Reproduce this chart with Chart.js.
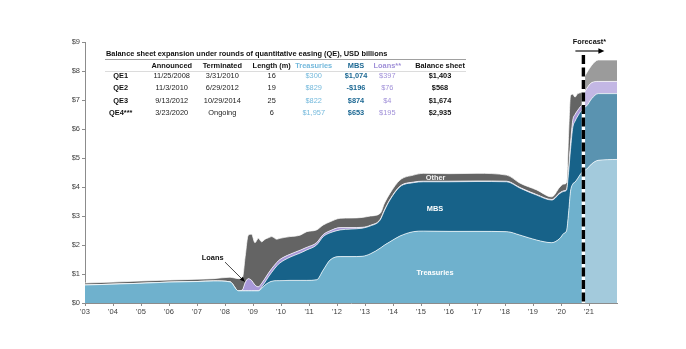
<!DOCTYPE html>
<html>
<head>
<meta charset="utf-8">
<script src="https://cdn.jsdelivr.net/npm/chart.js@4.4.0/dist/chart.umd.min.js"></script>
<style>
  html, body { margin: 0; padding: 0; background: #fff; }
  #wrap { width: 686px; height: 349px; }
</style>
</head>
<body>
<div id="wrap"><canvas id="c" width="686" height="349"></canvas></div>
<script>
// Federal Reserve balance sheet by asset type, USD trillions, by decimal year
const histYears = [2003.0, 2004.0, 2005.0, 2006.0, 2007.0, 2007.6, 2008.18, 2008.48, 2008.62, 2008.72, 2008.83, 2008.95,
  2009.07, 2009.19, 2009.31, 2009.43, 2009.55, 2009.67, 2009.85, 2009.96, 2010.32, 2010.68, 2010.92,
  2011.27, 2011.51, 2011.75, 2012.11, 2012.5, 2012.9, 2013.2, 2013.54, 2013.7, 2013.89, 2014.25, 2014.73,
  2015.08, 2016.0, 2017.0, 2018.06, 2018.54, 2019.13, 2019.67, 2019.96, 2020.1, 2020.2, 2020.27, 2020.34,
  2020.42, 2020.5, 2020.6, 2020.7, 2020.8];
const histTreasuries = [0.62, 0.65, 0.68, 0.72, 0.74, 0.76, 0.73, 0.42, 0.42, 0.42, 0.42, 0.42,
  0.42, 0.42, 0.5, 0.62, 0.7, 0.75, 0.77, 0.77, 0.78, 0.78, 0.78,
  0.8, 1.14, 1.48, 1.6, 1.6, 1.61, 1.7, 1.89, 2.0, 2.11, 2.31, 2.46,
  2.48, 2.47, 2.47, 2.46, 2.34, 2.17, 2.08, 2.23, 2.4, 2.5, 3.1, 3.85,
  4.1, 4.17, 4.3, 4.45, 4.55];
const histMBS = [0, 0, 0, 0, 0, 0, 0, 0, 0, 0, 0, 0,
  0, 0, 0.05, 0.1, 0.2, 0.31, 0.51, 0.61, 0.8, 0.94, 1.05,
  1.2, 1.15, 0.94, 0.92, 0.95, 0.97, 0.96, 0.97, 1.2, 1.44, 1.7, 1.69,
  1.7, 1.71, 1.72, 1.72, 1.62, 1.55, 1.47, 1.55, 1.45, 1.4, 1.4, 1.45,
  1.95, 2.1, 2.15, 2.15, 2.17];
const histLoans = [0, 0, 0, 0, 0, 0, 0, 0, 0.03, 0.28, 0.42, 0.36,
  0.2, 0.14, 0.13, 0.13, 0.13, 0.13, 0.12, 0.12, 0.1, 0.1, 0.09,
  0.08, 0.07, 0.07, 0.08, 0.05, 0.03, 0.02, 0.02, 0.02, 0.02, 0.02, 0.02,
  0.02, 0.02, 0.02, 0.02, 0.02, 0.02, 0.02, 0.02, 0.02, 0.02, 0.05, 0.2,
  0.25, 0.23, 0.2, 0.18, 0.16];
const histOther = [0.07, 0.07, 0.08, 0.07, 0.08, 0.08, 0.16, 0.42, 0.41, 0.9, 1.5, 1.59,
  1.46, 1.67, 1.43, 1.35, 1.22, 1.1, 0.8, 0.73, 0.61, 0.52, 0.54,
  0.44, 0.33, 0.31, 0.32, 0.33, 0.34, 0.32, 0.21, 0.23, 0.21, 0.21, 0.24,
  0.27, 0.26, 0.26, 0.21, 0.15, 0.16, 0.09, 0.2, 0.23, 0.23, 1.25, 1.65,
  0.9, 0.6, 0.57, 0.47, 0.42];

// Projected path
const fcYears = [2020.8, 2020.92, 2021.1, 2021.33, 2022.0];
const fcTreasuries = [4.55, 4.62, 4.8, 4.92, 4.95];
const fcMBS = [2.17, 2.18, 2.25, 2.3, 2.27];
const fcLoans = [0.48, 0.6, 0.55, 0.42, 0.42];
const fcOther = [0.55, 0.54, 0.6, 0.74, 0.74];
const forecastStart = 2020.8;

// Axis ticks
const xTickYears = [2003, 2004, 2005, 2006, 2007, 2008, 2009, 2010, 2011, 2012, 2013, 2014, 2015, 2016, 2017, 2018, 2019, 2020, 2021];
const xTickLabels = ["'03", "'04", "'05", "'06", "'07", "'08", "'09", "'10", "'11", "'12", "'13", "'14", "'15", "'16", "'17", "'18", "'19", "'20", "'21"];
const yTickValues = [0, 1, 2, 3, 4, 5, 6, 7, 8, 9];
const yTickLabels = ['$0', '$1', '$2', '$3', '$4', '$5', '$6', '$7', '$8', '$9'];

// QE rounds table
const tableTitle = 'Balance sheet expansion under rounds of quantitative easing (QE), USD billions';
const qeRounds = ['QE1', 'QE2', 'QE3', 'QE4***'];
const qeAnnounced = ['11/25/2008', '11/3/2010', '9/13/2012', '3/23/2020'];
const qeTerminated = ['3/31/2010', '6/29/2012', '10/29/2014', 'Ongoing'];
const qeLengthMonths = [16, 19, 25, 6];
const qeTreasuries = [300, 829, 822, 1957];
const qeMBS = [1074, -196, 874, 653];
const qeLoans = [397, 76, 4, 195];
const qeBalanceSheet = [1403, 568, 1674, 2935];

const FONT = '"Liberation Sans", Arial, Helvetica, sans-serif';
const COLORS = {
  hist: { t: '#6fb1cd', m: '#176289', l: '#a898d8', o: '#646464' },
  fc:   { t: '#a3cadc', m: '#5a93b0', l: '#c3b7e4', o: '#9b9b9b' },
  tText: '#74b9dc', mText: '#1c6893', lText: '#a090d8'
};

const pts = (xs, ys) => xs.map((x, i) => ({ x, y: ys[i] }));
function layer(label, xs, ys, stack, color, fill) {
  return {
    label, data: pts(xs, ys), stack, fill,
    backgroundColor: color,
    borderColor: 'rgba(255,255,255,0.7)',
    borderWidth: 1,
    pointRadius: 0,
    cubicInterpolationMode: 'monotone'
  };
}

const fmtUsd = v => (v < 0 ? '-$' : '$') + Math.abs(v).toLocaleString('en-US');

function arrowHead(ctx, x0, y0, x1, y1, len, half) {
  const ang = Math.atan2(y1 - y0, x1 - x0);
  ctx.beginPath();
  ctx.moveTo(x1, y1);
  ctx.lineTo(x1 - len * Math.cos(ang) + half * Math.sin(ang), y1 - len * Math.sin(ang) - half * Math.cos(ang));
  ctx.lineTo(x1 - len * Math.cos(ang) - half * Math.sin(ang), y1 - len * Math.sin(ang) + half * Math.cos(ang));
  ctx.closePath();
  ctx.fill();
}

const overlay = {
  id: 'overlay',
  afterDatasetsDraw(chart) {
    const { ctx, chartArea: a, scales: { x, y } } = chart;
    ctx.save();

    // Area labels
    ctx.textAlign = 'center';
    ctx.textBaseline = 'middle';
    ctx.font = 'bold 7.4px ' + FONT;
    ctx.fillStyle = '#ffffff';
    ctx.fillText('Treasuries', x.getPixelForValue(2015.5), y.getPixelForValue(1.03));
    ctx.fillText('MBS', x.getPixelForValue(2015.5), y.getPixelForValue(3.24));
    ctx.fillStyle = '#f0f0f0';
    ctx.fillText('Other', x.getPixelForValue(2015.52), y.getPixelForValue(4.31));

    // Loans callout
    ctx.fillStyle = '#111';
    ctx.fillText('Loans', x.getPixelForValue(2007.56), y.getPixelForValue(1.54));
    const lx0 = x.getPixelForValue(2008.0), ly0 = y.getPixelForValue(1.41);
    const lx1 = x.getPixelForValue(2008.71), ly1 = y.getPixelForValue(0.73);
    ctx.strokeStyle = '#333';
    ctx.lineWidth = 0.9;
    ctx.beginPath(); ctx.moveTo(lx0, ly0); ctx.lineTo(lx1, ly1); ctx.stroke();
    ctx.fillStyle = '#000';
    arrowHead(ctx, lx0, ly0, lx1, ly1, 5, 2.2);

    // Forecast divider
    const fx = x.getPixelForValue(forecastStart);
    ctx.lineWidth = 3.4;
    ctx.strokeStyle = '#ffffff';
    ctx.beginPath(); ctx.moveTo(fx, a.top + 13); ctx.lineTo(fx, a.bottom); ctx.stroke();
    ctx.strokeStyle = '#000';
    ctx.setLineDash([9, 3.5]);
    ctx.beginPath(); ctx.moveTo(fx, a.top + 13); ctx.lineTo(fx, a.bottom); ctx.stroke();
    ctx.setLineDash([]);

    const ay = a.top + 9;
    ctx.lineWidth = 1.1;
    ctx.beginPath(); ctx.moveTo(fx - 8, ay); ctx.lineTo(fx + 16, ay); ctx.stroke();
    arrowHead(ctx, fx - 8, ay, fx + 21, ay, 6, 2.8);
    ctx.fillStyle = '#111';
    ctx.font = 'bold 7.3px ' + FONT;
    ctx.fillText('Forecast*', fx + 6, a.top);

    // QE table
    ctx.textBaseline = 'middle';
    ctx.textAlign = 'left';
    ctx.font = 'bold 7.4px ' + FONT;
    ctx.fillStyle = '#111';
    ctx.fillText(tableTitle, 106, 53.7);
    ctx.lineWidth = 1;
    ctx.strokeStyle = '#a0a0a0';
    ctx.beginPath(); ctx.moveTo(105, 59.5); ctx.lineTo(466, 59.5); ctx.stroke();
    ctx.strokeStyle = '#dcdcdc';
    ctx.beginPath(); ctx.moveTo(105, 71.5); ctx.lineTo(466, 71.5); ctx.stroke();

    const cols = [120.7, 171.7, 222.3, 271.7, 313.7, 356, 387.3, 440];
    const headers = ['', 'Announced', 'Terminated', 'Length (m)', 'Treasuries', 'MBS', 'Loans**', 'Balance sheet'];
    const headColors = ['#111', '#111', '#111', '#111', COLORS.tText, COLORS.mText, COLORS.lText, '#111'];
    ctx.textAlign = 'center';
    headers.forEach((h, i) => {
      ctx.font = 'bold 7.4px ' + FONT;
      ctx.fillStyle = headColors[i];
      ctx.fillText(h, cols[i], 65.7);
    });
    const rowY = [76, 88.3, 100.6, 112.5];
    qeRounds.forEach((r, k) => {
      const cells = [
        [r, 'bold', '#111'],
        [qeAnnounced[k], 'normal', '#222'],
        [qeTerminated[k], 'normal', '#222'],
        [String(qeLengthMonths[k]), 'normal', '#222'],
        [fmtUsd(qeTreasuries[k]), 'normal', COLORS.tText],
        [fmtUsd(qeMBS[k]), 'bold', COLORS.mText],
        [fmtUsd(qeLoans[k]), 'normal', COLORS.lText],
        [fmtUsd(qeBalanceSheet[k]), 'bold', '#111']
      ];
      cells.forEach(([txt, w, col], i) => {
        ctx.font = w + ' 7.4px ' + FONT;
        ctx.fillStyle = col;
        ctx.fillText(txt, cols[i], rowY[k]);
      });
    });
    ctx.restore();
  }
};

const tickFont = { family: FONT, size: 7.5 };

new Chart(document.getElementById('c'), {
  type: 'line',
  data: {
    datasets: [
      layer('Treasuries', histYears, histTreasuries, 'hist', COLORS.hist.t, 'origin'),
      layer('MBS', histYears, histMBS, 'hist', COLORS.hist.m, '-1'),
      layer('Loans', histYears, histLoans, 'hist', COLORS.hist.l, '-1'),
      layer('Other', histYears, histOther, 'hist', COLORS.hist.o, '-1'),
      layer('Treasuries (forecast)', fcYears, fcTreasuries, 'fc', COLORS.fc.t, 'origin'),
      layer('MBS (forecast)', fcYears, fcMBS, 'fc', COLORS.fc.m, '-1'),
      layer('Loans (forecast)', fcYears, fcLoans, 'fc', COLORS.fc.l, '-1'),
      layer('Other (forecast)', fcYears, fcOther, 'fc', COLORS.fc.o, '-1')
    ]
  },
  options: {
    responsive: false,
    animation: false,
    devicePixelRatio: 1,
    layout: { padding: { top: 42, right: 69, bottom: 0, left: 0 } },
    plugins: { legend: { display: false }, tooltip: { enabled: false } },
    scales: {
      x: {
        type: 'linear', min: 2003, max: 2022,
        grid: { drawOnChartArea: false, drawTicks: true, tickLength: 3, color: '#8c8c8c' },
        border: { display: true, color: '#8c8c8c', width: 1 },
        afterBuildTicks: s => { s.ticks = xTickYears.map(v => ({ value: v })); },
        ticks: { autoSkip: false, maxRotation: 0, padding: 1, color: '#404040', font: tickFont,
          callback: (v, i) => xTickLabels[i] },
        afterFit: s => { s.height = 46; }
      },
      y: {
        stacked: true, min: 0, max: 9,
        grid: { drawOnChartArea: false, drawTicks: true, tickLength: 3, color: '#8c8c8c' },
        border: { display: true, color: '#8c8c8c', width: 1 },
        afterBuildTicks: s => { s.ticks = yTickValues.map(v => ({ value: v })); },
        ticks: { padding: 2, color: '#404040', font: tickFont, callback: (v, i) => yTickLabels[i] },
        afterFit: s => { s.width = 85; }
      }
    }
  },
  plugins: [overlay]
});
</script>
</body>
</html>
